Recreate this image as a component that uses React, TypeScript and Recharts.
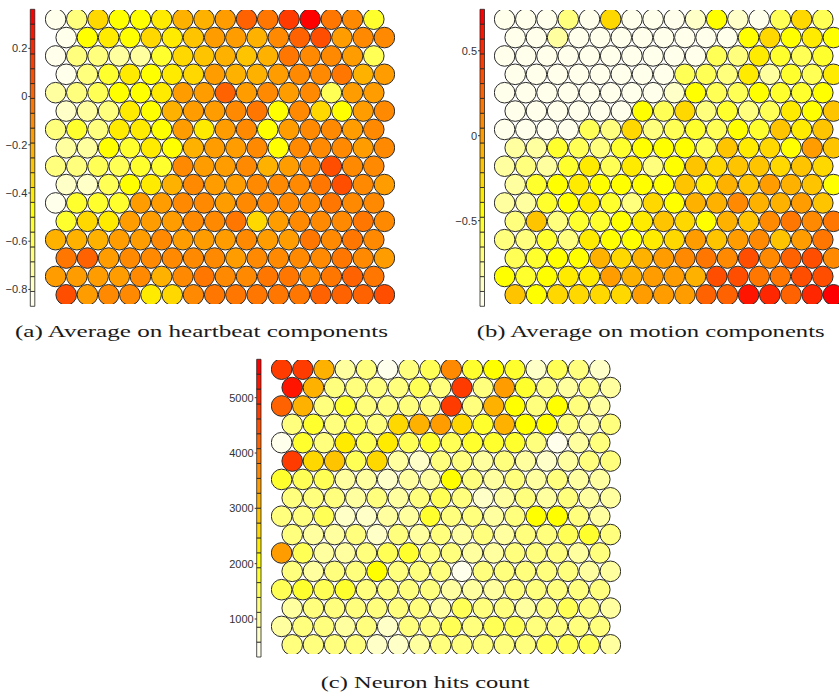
import React from 'react';
import { ScatterChart, Scatter, XAxis, YAxis, ComposedChart, ReferenceArea, Line } from 'recharts';

// ---------- colormap (20 discrete levels, low -> high) ----------
const palette = [
  '#FFFFEB', '#FFFFC8', '#FFFFA0', '#FFFF7D', '#FFFF55', '#FFFF2D', '#FFFF00',
  '#FFEB00', '#FFD800', '#FFC400', '#FFB100', '#FF9D00', '#FF8900', '#FF7600',
  '#FF6200', '#FF4E00', '#FF3B00', '#FF2700', '#FF1400', '#FF0000',
];

// ---------- (a) Average on heartbeat components ----------
const heartMin = -0.87;
const heartMax = 0.362;
const heartTicks = [-0.8, -0.6, -0.4, -0.2, 0, 0.2];
const heartbeat = [
  [-0.84, -0.65, -0.35, -0.47, -0.47, -0.41, -0.22, -0.22, -0.16, 0.02, -0.04, 0.14, 0.33, -0.04, -0.10, -0.53],
  [-0.84, -0.47, -0.41, -0.47, -0.35, -0.41, -0.28, -0.16, -0.16, -0.22, -0.10, 0.02, 0.08, -0.16, -0.10, -0.10],
  [-0.84, -0.65, -0.65, -0.72, -0.72, -0.53, -0.35, -0.28, -0.22, -0.28, -0.22, -0.04, -0.10, -0.10, -0.16, -0.59],
  [-0.84, -0.65, -0.53, -0.41, -0.47, -0.41, -0.35, -0.16, -0.22, -0.22, -0.16, -0.10, -0.10, -0.04, -0.22, -0.16],
  [-0.72, -0.65, -0.59, -0.47, -0.47, -0.41, -0.16, -0.16, 0.02, -0.16, -0.10, -0.16, -0.10, -0.59, -0.16, -0.16],
  [-0.78, -0.72, -0.65, -0.41, -0.47, -0.22, -0.16, -0.16, -0.10, -0.04, -0.47, -0.10, -0.35, -0.47, -0.16, -0.10],
  [-0.65, -0.53, -0.65, -0.41, -0.41, -0.47, -0.16, -0.41, -0.16, -0.10, -0.47, -0.16, -0.10, -0.10, -0.16, -0.10],
  [-0.72, -0.72, -0.47, -0.53, -0.41, -0.47, -0.22, -0.16, -0.16, -0.10, -0.47, -0.10, -0.10, -0.10, -0.16, -0.10],
  [-0.65, -0.65, -0.59, -0.59, -0.53, -0.53, -0.10, -0.16, -0.16, -0.10, -0.22, -0.16, -0.10, 0.08, -0.10, -0.10],
  [-0.78, -0.78, -0.59, -0.47, -0.41, -0.22, -0.10, -0.16, -0.16, -0.10, -0.10, -0.10, -0.04, 0.08, -0.10, -0.16],
  [-0.84, -0.53, -0.53, -0.53, -0.16, -0.16, -0.10, -0.10, -0.16, -0.10, -0.10, -0.10, -0.10, -0.04, -0.10, -0.10],
  [-0.53, -0.35, -0.41, -0.16, -0.16, -0.16, -0.10, -0.10, -0.04, -0.35, -0.16, -0.10, -0.10, -0.10, -0.04, -0.10],
  [-0.22, -0.22, -0.22, -0.16, -0.16, -0.10, -0.16, -0.16, -0.16, -0.10, -0.16, -0.16, -0.04, -0.10, -0.04, -0.10],
  [-0.04, 0.02, -0.16, -0.10, -0.10, -0.10, -0.10, -0.10, -0.16, -0.10, -0.10, -0.10, -0.10, -0.04, -0.10, -0.16],
  [-0.16, -0.16, -0.16, -0.16, -0.10, -0.22, -0.10, -0.04, -0.10, -0.10, -0.04, -0.04, -0.10, -0.04, 0.02, -0.04],
  [0.08, -0.16, -0.10, -0.10, -0.41, -0.35, -0.10, -0.04, -0.04, -0.04, -0.04, -0.04, 0.02, 0.02, 0.02, 0.08],
];

// ---------- (b) Average on motion components ----------
const motionMin = -1.004;
const motionMax = 0.744;
const motionTicks = [-0.5, 0, 0.5];
const motion = [
  [-0.96, -0.96, -0.96, -0.70, -0.96, -0.26, -0.96, -0.96, -0.96, -0.87, -0.44, -0.87, -0.96, -0.61, -0.26, -0.61],
  [-0.96, -0.96, -0.79, -0.96, -0.96, -0.96, -0.96, -0.96, -0.96, -0.96, -0.96, -0.44, -0.26, -0.44, -0.35, -0.44],
  [-0.96, -0.96, -0.96, -0.96, -0.96, -0.96, -0.96, -0.96, -0.96, -0.96, -0.61, -0.70, -0.35, -0.52, -0.61, -0.52],
  [-0.96, -0.96, -0.96, -0.96, -0.96, -0.96, -0.96, -0.96, -0.61, -0.61, -0.70, -0.35, -0.79, -0.52, -0.61, -0.35],
  [-0.96, -0.96, -0.96, -0.96, -0.96, -0.96, -0.96, -0.96, -0.87, -0.44, -0.61, -0.61, -0.44, -0.52, -0.52, -0.44],
  [-0.96, -0.96, -0.96, -0.96, -0.96, -0.96, -0.44, -0.61, -0.26, -0.70, -0.52, -0.70, -0.61, -0.35, -0.44, -0.17],
  [-0.96, -0.96, -0.96, -0.96, -0.61, -0.70, -0.26, -0.70, -0.61, -0.52, -0.61, -0.44, -0.52, -0.17, -0.35, -0.17],
  [-0.79, -0.79, -0.52, -0.61, -0.70, -0.52, -0.44, -0.44, -0.44, -0.61, -0.17, -0.35, -0.26, -0.44, 0.00, -0.17],
  [-0.79, -0.70, -0.79, -0.52, -0.35, -0.61, -0.35, -0.70, -0.44, -0.17, -0.26, -0.17, -0.17, -0.26, -0.17, -0.26],
  [-0.79, -0.52, -0.44, -0.35, -0.44, -0.44, -0.44, -0.44, -0.17, -0.35, -0.09, -0.17, 0.00, -0.09, -0.17, -0.44],
  [-0.79, -0.79, -0.52, -0.44, -0.35, -0.52, -0.70, -0.26, -0.44, -0.09, -0.09, 0.09, -0.09, -0.09, 0.00, -0.17],
  [-0.70, -0.17, -0.70, -0.52, -0.52, -0.44, -0.35, -0.17, -0.26, -0.44, -0.09, -0.17, 0.09, 0.18, 0.09, 0.18],
  [-0.70, -0.70, -0.52, -0.70, -0.35, -0.44, -0.44, -0.35, -0.26, 0.00, -0.17, 0.00, 0.09, -0.17, 0.00, 0.18],
  [-0.61, -0.52, -0.44, -0.44, -0.09, -0.26, -0.09, 0.00, 0.09, 0.18, 0.09, 0.35, 0.09, 0.26, 0.35, 0.09],
  [-0.44, -0.52, -0.44, -0.35, -0.35, 0.00, -0.09, 0.00, 0.00, -0.09, 0.35, 0.35, 0.18, 0.18, 0.35, 0.35],
  [-0.17, -0.44, -0.26, -0.26, -0.26, -0.26, 0.00, 0.00, 0.00, 0.26, 0.26, 0.61, 0.52, 0.26, 0.52, 0.70],
];

// ---------- (c) Neuron hits count ----------
const hitsMin = 313;
const hitsMax = 5694;
const hitsTicks = [1000, 2000, 3000, 4000, 5000];
const hits = [
  [4760, 4760, 3140, 990, 1250, 450, 1250, 1520, 3680, 1790, 2060, 1790, 720, 1520, 1250, 720],
  [5290, 3140, 1250, 1250, 1250, 1250, 1520, 1250, 4760, 1250, 3410, 1790, 1250, 990, 1250, 990],
  [4220, 3140, 1250, 1790, 1250, 1250, 1250, 1250, 4760, 1250, 3140, 2060, 1250, 2060, 1250, 990],
  [1250, 1790, 1250, 1520, 1250, 2600, 3140, 3410, 2600, 1790, 3140, 2060, 2060, 1250, 990, 1250],
  [450, 1790, 1250, 2330, 1520, 2330, 1520, 1790, 1520, 1790, 1790, 1790, 1250, 450, 990, 1250],
  [4760, 2600, 2870, 1520, 2600, 990, 720, 1250, 1250, 990, 1250, 990, 720, 990, 1250, 1250],
  [1790, 1520, 1520, 990, 990, 720, 990, 990, 2060, 1250, 990, 1250, 990, 1250, 990, 990],
  [1250, 1250, 1250, 990, 1250, 990, 1250, 1520, 1250, 720, 990, 1250, 990, 1250, 990, 990],
  [1250, 1250, 1520, 720, 720, 990, 990, 1790, 1250, 1250, 990, 1250, 2060, 2060, 1250, 990],
  [1250, 990, 990, 1250, 720, 1250, 990, 1250, 990, 1250, 990, 1250, 1250, 1520, 1790, 1250],
  [3410, 1520, 990, 990, 1250, 1520, 1790, 1250, 1250, 990, 990, 1250, 1250, 1250, 990, 1250],
  [1250, 990, 1250, 1250, 2060, 1250, 1250, 1250, 450, 1250, 1250, 1250, 1250, 1250, 990, 990],
  [1520, 1790, 1520, 1790, 1250, 1250, 1250, 1250, 990, 990, 990, 1250, 1250, 1250, 1250, 1250],
  [990, 1250, 1250, 1250, 1250, 1250, 1250, 990, 1520, 1250, 1250, 990, 1250, 1520, 1250, 990],
  [990, 1250, 1250, 990, 1250, 720, 1250, 1250, 1520, 1250, 1520, 1520, 1250, 1250, 1250, 1250],
  [1250, 1250, 1250, 1250, 720, 720, 990, 1250, 1250, 1250, 1250, 1250, 1520, 1520, 1520, 990],
];

const captions = [
  '(a) Average on heartbeat components',
  '(b) Average on motion components',
  '(c) Neuron hits count',
];

const levelColor = (v: number, min: number, max: number) => {
  const n = palette.length;
  let i = Math.floor(((v - min) / (max - min)) * n);
  if (i < 0) i = 0;
  if (i > n - 1) i = n - 1;
  return palette[i];
};

const fmtTick = (v: number) => (v < 0 ? '\u2212' + String(Math.abs(v)) : String(v));

const GRID_W = 350;
const GRID_H = 294;

function SomGrid({ rows, min, max, left, top }: any) {
  const data = rows.flatMap((row: number[], r: number) =>
    row.map((v: number, k: number) => ({ x: k + (r % 2 === 1 ? 0.5 : 0), y: r, v }))
  );
  return (
    <div style={{ position: 'absolute', left, top }}>
      <ScatterChart width={GRID_W} height={GRID_H} margin={{ top: 0, right: 0, bottom: 0, left: 0 }}>
        <XAxis type="number" dataKey="x" domain={[-0.5, 16]} hide allowDataOverflow />
        <YAxis type="number" dataKey="y" domain={[-0.5, 15.5]} reversed hide allowDataOverflow />
        <Scatter
          data={data}
          isAnimationActive={false}
          shape={(p: any) => (
            <circle
              cx={p.cx}
              cy={p.cy}
              r={10.3}
              fill={levelColor(p.payload.v, min, max)}
              stroke="#2b2b2b"
              strokeWidth={1}
            />
          )}
        />
      </ScatterChart>
    </div>
  );
}

function ColorBar({ min, max, ticks, left, top, width, height, axisWidth, mTop, mBottom, mRight }: any) {
  const n = palette.length;
  const step = (max - min) / n;
  const segs = palette.map((c, i) => ({ lo: min + i * step, hi: min + (i + 1) * step, c }));
  const data = [
    { x: 0, y: min },
    { x: 1, y: max },
  ];
  return (
    <div style={{ position: 'absolute', left, top }}>
      <ComposedChart
        width={width}
        height={height}
        data={data}
        margin={{ top: mTop, bottom: mBottom, left: 0, right: mRight }}
      >
        <XAxis type="number" dataKey="x" domain={[0, 1]} hide />
        <YAxis
          type="number"
          domain={[min, max]}
          ticks={ticks}
          width={axisWidth}
          allowDataOverflow
          axisLine={false}
          tickSize={2}
          tickMargin={1}
          tickLine={{ stroke: '#333' }}
          tick={{ fontSize: 11, fill: '#333', fontFamily: 'Liberation Sans, Arial, sans-serif' }}
          tickFormatter={fmtTick}
          interval={0}
        />
        {segs.map((s, i) => (
          <ReferenceArea
            key={i}
            y1={s.lo}
            y2={s.hi}
            fill={s.c}
            fillOpacity={1}
            stroke="#222"
            strokeWidth={0.8}
            ifOverflow="extendDomain"
          />
        ))}
        <Line dataKey="y" stroke="none" dot={false} isAnimationActive={false} />
      </ComposedChart>
    </div>
  );
}

export default function App() {
  return (
    <div
      style={{
        position: 'absolute',
        left: 0,
        top: 0,
        width: 839,
        height: 698,
        overflow: 'hidden',
        background: '#fff',
      }}
    >
      <ColorBar min={heartMin} max={heartMax} ticks={heartTicks} left={0} top={0} width={36} height={315}
        axisWidth={30.3} mTop={9.3} mBottom={8.7} mRight={1.2} />
      <SomGrid rows={heartbeat} min={heartMin} max={heartMax} left={45.1} top={9.8} />

      <ColorBar min={motionMin} max={motionMax} ticks={motionTicks} left={440} top={0} width={46} height={315}
        axisWidth={40} mTop={9.3} mBottom={8.7} mRight={1.5} />
      <SomGrid rows={motion} min={motionMin} max={motionMax} left={493.7} top={9.8} />

      <ColorBar min={hitsMin} max={hitsMax} ticks={hitsTicks} left={210} top={350} width={52} height={315}
        axisWidth={46.7} mTop={9.3} mBottom={8} mRight={1} />
      <SomGrid rows={hits} min={hitsMin} max={hitsMax} left={271.1} top={360.1} />

      <svg width={839} height={698} style={{ position: 'absolute', left: 0, top: 0, pointerEvents: 'none' }}>
        <g fontFamily="'Liberation Serif', 'DejaVu Serif', serif" fontSize={17} fill="#1a1a1a">
          <text x={15} y={336.7} textLength={373} lengthAdjust="spacingAndGlyphs">{captions[0]}</text>
          <text x={476.7} y={336.7} textLength={348} lengthAdjust="spacingAndGlyphs">{captions[1]}</text>
          <text x={320.7} y={688.3} textLength={209} lengthAdjust="spacingAndGlyphs">{captions[2]}</text>
        </g>
      </svg>
    </div>
  );
}
